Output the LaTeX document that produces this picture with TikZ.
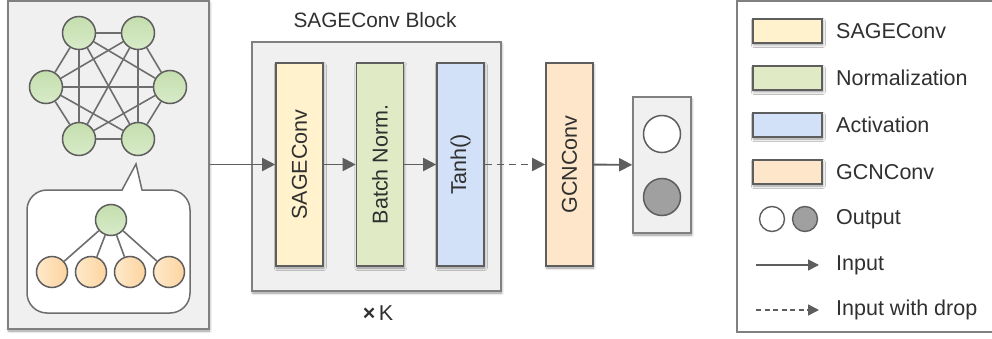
\documentclass[tikz,border=0pt]{standalone}
\usepackage{fontspec}
\setmainfont{Liberation Sans}
\usetikzlibrary{arrows.meta,shadows.blur}

\definecolor{linegray}{HTML}{5E5E5E}
\definecolor{edgegray}{HTML}{6E6E6E}
\definecolor{boxgray}{HTML}{F0F0F0}
\definecolor{framegray}{HTML}{808080}
\definecolor{txt}{HTML}{303030}
\definecolor{sagefill}{HTML}{FFF2CC}
\definecolor{normfill}{HTML}{E0EBC6}
\definecolor{actfill}{HTML}{D2E1F7}
\definecolor{gcnfill}{HTML}{FDE6C9}
\definecolor{greentop}{HTML}{C4DEAE}
\definecolor{greenbot}{HTML}{D8EBC8}
\definecolor{orangeA}{HTML}{FFE9CC}
\definecolor{orangeB}{HTML}{FCD49E}
\definecolor{outgray}{HTML}{A0A0A0}

\tikzset{
  shade/.style={blur shadow={shadow xshift=0.8pt, shadow yshift=-2pt,
      shadow blur radius=2.5pt, shadow blur steps=6, shadow opacity=40}},
  panel/.style={draw=framegray, fill=boxgray, line width=1.6pt, shade,
      inner sep=0pt},
  layer/.style={draw=linegray, line width=1.6pt, inner sep=0pt, shade,
      minimum width=47pt, minimum height=203pt},
  vlabel/.style={rotate=90, text=txt, inner sep=0pt},
  gnode/.style={circle, draw=linegray, line width=1.5pt, inner sep=0pt,
      minimum size=33pt, top color=greentop, bottom color=greenbot},
  onode/.style={circle, draw=linegray, line width=1.5pt, inner sep=0pt,
      minimum size=31pt, shading=axis, shading angle=135,
      left color=orangeA, right color=orangeB},
  gedge/.style={draw=edgegray, line width=1.6pt},
  arr/.style={draw=linegray, line width=1.9pt,
      -{Triangle[length=13pt, width=13pt]}},
  dasharr/.style={arr, dash pattern=on 7pt off 5pt},
  swatch/.style={draw=linegray, line width=1.6pt, inner sep=0pt, shade,
      minimum width=69pt, minimum height=24pt},
  legtext/.style={anchor=west, text=txt, inner sep=0pt},
}

\begin{document}
\begin{tikzpicture}[x=1pt, y=-1pt, font=\fontsize{21.5}{25}\selectfont]
\useasboundingbox (0,0) rectangle (992,339);

% ---------- input graph panel ----------
\node[panel, minimum width=201pt, minimum height=328pt] (graphpanel) at (108.5,165) {};

\node[gnode] (h1) at (79,33) {};
\node[gnode] (h2) at (138,33) {};
\node[gnode] (h3) at (170,87) {};
\node[gnode] (h4) at (138,139) {};
\node[gnode] (h5) at (79,139) {};
\node[gnode] (h6) at (46,87) {};
\foreach \a/\b in {h1/h2,h1/h3,h1/h4,h1/h5,h1/h6,h2/h3,h2/h4,h2/h5,h2/h6,
                   h3/h4,h3/h5,h3/h6,h4/h5,h4/h6,h5/h6}
  \draw[gedge] (\a) -- (\b);

% speech bubble showing the neighbourhood of one node
\node[draw=edgegray, fill=white, line width=1.5pt, rounded corners=20pt,
      minimum width=163pt, minimum height=123pt, inner sep=0pt] (bubble) at (108.5,251.5) {};
\coordinate (tip) at (136,164);
\fill[white] (122.3,191.5) -- (tip) -- (141.7,191.5) -- cycle;
\draw[draw=edgegray, line width=1.5pt, line join=miter] (122,190) -- (tip) -- (142,190);

\node[gnode, minimum size=31pt] (root) at (111,220) {};
\node[onode] (c1) at (52,272) {};
\node[onode] (c2) at (91,272) {};
\node[onode] (c3) at (130,272) {};
\node[onode] (c4) at (169,272) {};
\foreach \c in {c1,c2,c3,c4}
  \draw[gedge] (root) -- (\c);

% ---------- SAGEConv block ----------
\node[text=txt, font=\fontsize{20.8}{25}\selectfont] (blocktitle) at (375,20) {SAGEConv Block};
\node[panel, minimum width=249pt, minimum height=249pt] (block) at (376.5,166.5) {};
\node[text=txt] (times) at (378,313) {\textbf{×}\,K};

\node[layer, fill=sagefill] (sage) at (299.5,164.5) {};
\node[vlabel] (sagetxt) at (sage) {SAGEConv};
\node[layer, fill=normfill] (bn) at (380,164.5) {};
\node[vlabel] (bntxt) at (bn) {Batch Norm.};
\node[layer, fill=actfill] (tanh) at (460.5,164.5) {};
\node[vlabel] (tanhtxt) at (tanh) {Tanh()};

% ---------- GCNConv and output ----------
\node[layer, fill=gcnfill] (gcn) at (569.5,164.5) {};
\node[vlabel] (gcntxt) at (gcn) {GCNConv};

\node[panel, minimum width=58pt, minimum height=136pt] (outbox) at (662,165) {};
\node[circle, draw=linegray, fill=white, line width=1.5pt, minimum size=37pt, inner sep=0pt] (o1) at (662,134) {};
\node[circle, draw=linegray, fill=outgray, line width=1.5pt, minimum size=37pt, inner sep=0pt] (o2) at (662,197) {};

% ---------- connectors ----------
\draw[arr] (graphpanel.east |- sage.west) -- (sage.west);
\draw[arr] (sage) -- (bn);
\draw[arr] (bn) -- (tanh);
\draw[dasharr] (tanh) -- (gcn);
\draw[arr] (gcn) -- (outbox);

% ---------- legend ----------
\node[draw=framegray, fill=white, line width=1.6pt, inner sep=0pt,
      minimum width=256pt, minimum height=331pt] (legend) at (865,166.5) {};

\node[swatch, fill=sagefill] (k1) at (787.5,31) {};
\node[legtext] (k1t) at (836,31) {SAGEConv};
\node[swatch, fill=normfill] (k2) at (787.5,78) {};
\node[legtext] (k2t) at (836,78) {Normalization};
\node[swatch, fill=actfill] (k3) at (787.5,125) {};
\node[legtext] (k3t) at (836,125) {Activation};
\node[swatch, fill=gcnfill] (k4) at (787.5,172) {};
\node[legtext] (k4t) at (836,172) {GCNConv};

\node[circle, draw=linegray, fill=white, line width=1.4pt, minimum size=25pt, inner sep=0pt] (k5a) at (772,219) {};
\node[circle, draw=linegray, fill=outgray, line width=1.4pt, minimum size=25pt, inner sep=0pt] (k5b) at (805,219) {};
\node[legtext] (k5t) at (836,219) {Output};

\coordinate (k6a) at (756,265);
\coordinate (k6b) at (819,265);
\draw[arr, line width=1.6pt, -{Triangle[length=11pt, width=11pt]}] (k6a) -- (k6b);
\node[legtext] (k6t) at (836,265) {Input};

\coordinate (k7a) at (756,310);
\coordinate (k7b) at (819,310);
\draw[arr, line width=1.6pt, dash pattern=on 5pt off 3.5pt,
      -{Triangle[length=11pt, width=11pt]}] (k7a) -- (k7b);
\node[legtext] (k7t) at (836,310) {Input with drop};
\end{tikzpicture}
\end{document}
